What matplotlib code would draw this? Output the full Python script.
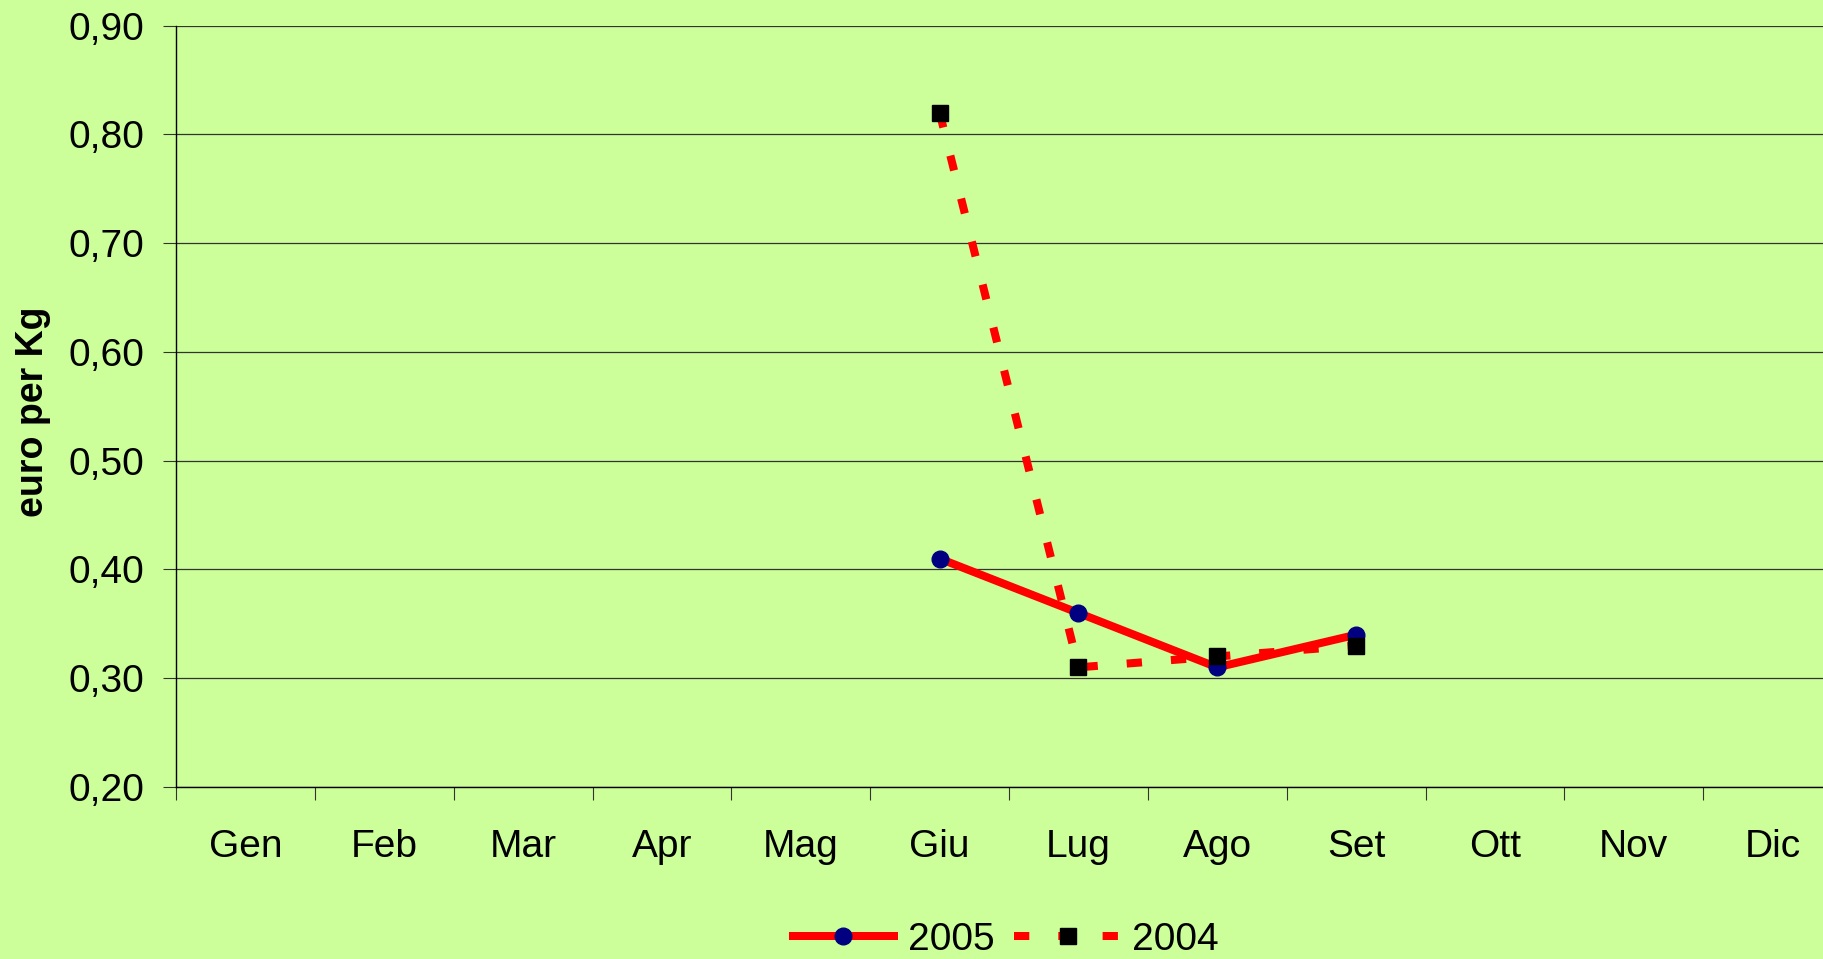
import numpy as np
import matplotlib
matplotlib.use("Agg")
import matplotlib.pyplot as plt
from matplotlib.ticker import FixedLocator, FuncFormatter

mesi = ["Gen", "Feb", "Mar", "Apr", "Mag", "Giu", "Lug", "Ago", "Set", "Ott", "Nov", "Dic"]
mesi_dati = ["Giu", "Lug", "Ago", "Set"]
prezzi_2005 = [0.41, 0.36, 0.31, 0.34]
prezzi_2004 = [0.82, 0.31, 0.32, 0.33]
y_ticks = [0.20, 0.30, 0.40, 0.50, 0.60, 0.70, 0.80, 0.90]

bg = "#CCFF99"
plt.rcParams["font.family"] = ["Liberation Sans", "DejaVu Sans"]

fig = plt.figure(figsize=(18.23, 9.59), dpi=100, facecolor=bg)
ax = fig.add_axes([176 / 1823, 1 - 787 / 959, 1666 / 1823, (787 - 25.6) / 959])
ax.set_facecolor(bg)

x = [mesi.index(m) for m in mesi_dati]
ax.plot(x, prezzi_2005, color="red", lw=5.8, solid_capstyle="butt",
        marker="o", ms=12, mfc="#000080", mec="#000080", label="2005", zorder=3)
ax.plot(x, prezzi_2004, color="red", lw=5.8, dashes=(1.9, 3.6),
        marker="s", ms=11.5, mfc="black", mec="black", label="2004", zorder=4)

ax.set_xlim(-0.5, 11.5)
ax.set_ylim(0.2, 0.9)
ax.set_xticks(range(len(mesi)))
ax.set_xticklabels(mesi)
ax.xaxis.set_minor_locator(FixedLocator(np.arange(-0.5, 12, 1)))
ax.tick_params(axis="x", which="major", length=0, pad=30, labelsize=28)
ax.tick_params(axis="x", which="minor", length=9, width=0.8, direction="out", color="#333333")

ax.set_yticks(y_ticks)
ax.yaxis.set_major_formatter(FuncFormatter(lambda v, p: f"{v:.2f}".replace(".", ",")))
ax.tick_params(axis="y", length=9.5, width=0.8, direction="out", pad=13, labelsize=28, color="#333333")
ax.grid(axis="y", color="#333333", lw=0.9)
ax.set_axisbelow(True)

for s in ["top", "right"]:
    ax.spines[s].set_visible(False)
for s in ["left", "bottom"]:
    ax.spines[s].set_color("black")
    ax.spines[s].set_linewidth(1.0)

fig.text(33 / 1823, 1 - 412 / 959, "euro per Kg", rotation=90, fontsize=27,
         fontweight="bold", ha="center", va="center")

fig.legend(loc="center", bbox_to_anchor=(1004 / 1823, 1 - 940 / 959), ncol=2,
           frameon=False, fontsize=28, handlelength=2.8, handletextpad=0.25,
           columnspacing=0.5, numpoints=1)

fig.savefig("out.png", dpi=100, facecolor=bg)
